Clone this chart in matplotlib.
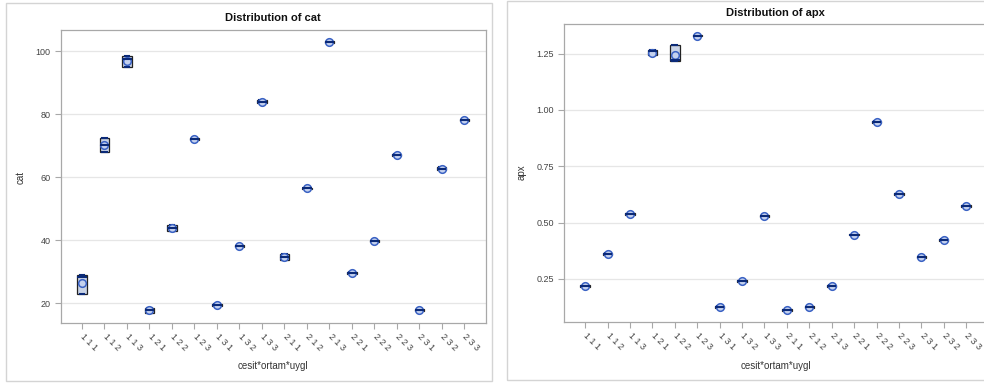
import numpy as np
import matplotlib
matplotlib.use("Agg")
import matplotlib.pyplot as plt
from matplotlib.patches import Rectangle

plt.rcParams['font.family'] = ['Liberation Sans', 'DejaVu Sans']

groups = ["1 1 1", "1 1 2", "1 1 3", "1 2 1", "1 2 2", "1 2 3",
          "1 3 1", "1 3 2", "1 3 3", "2 1 1", "2 1 2", "2 1 3",
          "2 2 1", "2 2 2", "2 2 3", "2 3 1", "2 3 2", "2 3 3"]

# cat: quartiles, median, mean per group
cat_q1 = [22.9, 67.9, 94.9, 16.9, 42.8, 71.8, 19.2, 37.8, 83.4,
          33.8, 56.1, 102.7, 29.2, 39.5, 66.6, 17.4, 62.2, 77.8]
cat_med = [28.3, 70.3, 97.5, 17.7, 43.8, 72.1, 19.5, 38.1, 83.8,
           34.7, 56.4, 103.0, 29.5, 39.8, 66.9, 17.7, 62.7, 78.1]
cat_q3 = [28.8, 72.3, 98.5, 18.6, 44.7, 72.4, 19.8, 38.4, 84.4,
          35.6, 56.7, 103.3, 29.8, 40.1, 67.2, 18.0, 63.2, 78.4]
cat_mean = [26.5, 70.1, 96.8, 17.7, 43.8, 72.1, 19.5, 38.1, 83.8,
            34.7, 56.4, 103.0, 29.5, 39.8, 66.9, 17.7, 62.7, 78.1]

# apx
apx_q1 = [0.215, 0.357, 0.534, 1.243, 1.215, 1.326, 0.123, 0.237, 0.524,
          0.107, 0.123, 0.215, 0.443, 0.943, 0.623, 0.344, 0.418, 0.570]
apx_med = [0.219, 0.361, 0.538, 1.260, 1.220, 1.330, 0.127, 0.241, 0.528,
           0.111, 0.127, 0.219, 0.447, 0.947, 0.627, 0.348, 0.422, 0.574]
apx_q3 = [0.223, 0.365, 0.542, 1.265, 1.286, 1.334, 0.131, 0.245, 0.532,
          0.115, 0.131, 0.223, 0.451, 0.951, 0.631, 0.352, 0.426, 0.578]
apx_mean = [0.219, 0.361, 0.538, 1.252, 1.243, 1.330, 0.127, 0.241, 0.528,
            0.111, 0.127, 0.219, 0.447, 0.947, 0.627, 0.348, 0.422, 0.574]

W, H = 984, 385
fig = plt.figure(figsize=(W / 100, H / 100), dpi=100)

def fx(px):
    return px / W

def fy(py):
    return 1 - py / H

# panel frames
for (x0, y0, x1, y1) in [(6, 3, 492, 381), (507, 1, 990, 380)]:
    fig.patches.append(Rectangle((fx(x0), fy(y1)), fx(x1 - x0), (y1 - y0) / H,
                                 transform=fig.transFigure, fill=False,
                                 edgecolor='#d4d4d4', linewidth=1.0))

def panel(rect, q1, med, q3, mean, ylim, yticks, yfmt, var, title_y):
    ax = fig.add_axes(rect)
    stats = []
    for i in range(len(groups)):
        stats.append(dict(q1=q1[i], med=med[i], q3=q3[i], mean=mean[i],
                          whislo=q1[i], whishi=q3[i], fliers=[], label=groups[i]))
    ax.bxp(stats, positions=np.arange(len(groups)), widths=0.42,
           showmeans=True, patch_artist=True, showcaps=True,
           boxprops=dict(facecolor='#c9d3e6', edgecolor='#222222', linewidth=0.9),
           medianprops=dict(color='#0b2a78', linewidth=1.5, zorder=5),
           whiskerprops=dict(color='#0b2a78', linewidth=1.0),
           capprops=dict(color='#0b2a78', linewidth=1.5),
           meanprops=dict(marker='o', markersize=5.5, markerfacecolor='#c4d1ee',
                          markeredgecolor='#3a62c4', markeredgewidth=1.1, zorder=4),
           manage_ticks=False)
    ax.set_xlim(-0.93, 17.95)
    ax.set_ylim(*ylim)
    ax.set_xticks(np.arange(len(groups)))
    ax.set_xticklabels(groups, rotation=-45, ha='left', va='center',
                       rotation_mode='anchor', fontsize=6.5, color='#444444')
    ax.set_yticks(yticks)
    ax.set_yticklabels([yfmt.format(v) for v in yticks], fontsize=6.5, color='#444444')
    ax.yaxis.grid(True, color='#e6e6e6', linewidth=0.9)
    ax.set_axisbelow(True)
    for s in ['top', 'right', 'left', 'bottom']:
        ax.spines[s].set_color('#a8a8a8')
        ax.spines[s].set_linewidth(0.9)
    ax.tick_params(axis='both', colors='#a8a8a8', length=4, width=0.8, labelcolor='#444444')
    ax.tick_params(axis='x', pad=5)
    cx = (rect[0] + rect[0] + rect[2]) / 2
    fig.text(cx, fy(title_y), "Distribution of " + var, ha='center', va='center',
             fontsize=8, fontweight='bold', color='#111111')
    fig.text(cx, fy(366), "cesit*ortam*uygl", ha='center', va='center',
             fontsize=7, color='#333333')
    return ax

ax1 = panel([fx(61), fy(323), fx(485.6 - 61), (323 - 30) / H],
            cat_q1, cat_med, cat_q3, cat_mean, (13.7, 106.7),
            [20, 40, 60, 80, 100], "{:.0f}", "cat", 18)
fig.text(fx(21), fy(177), "cat", rotation=90, ha='center', va='center',
         fontsize=7, color='#333333')

ax2 = panel([fx(564.3), fy(322), fx(987.5 - 564.3), (322 - 24.3) / H],
            apx_q1, apx_med, apx_q3, apx_mean, (0.059, 1.380),
            [0.25, 0.50, 0.75, 1.00, 1.25], "{:.2f}", "apx", 13)
fig.text(fx(522), fy(172), "apx", rotation=90, ha='center', va='center',
         fontsize=7, color='#333333')

fig.savefig("out.png", dpi=100)
